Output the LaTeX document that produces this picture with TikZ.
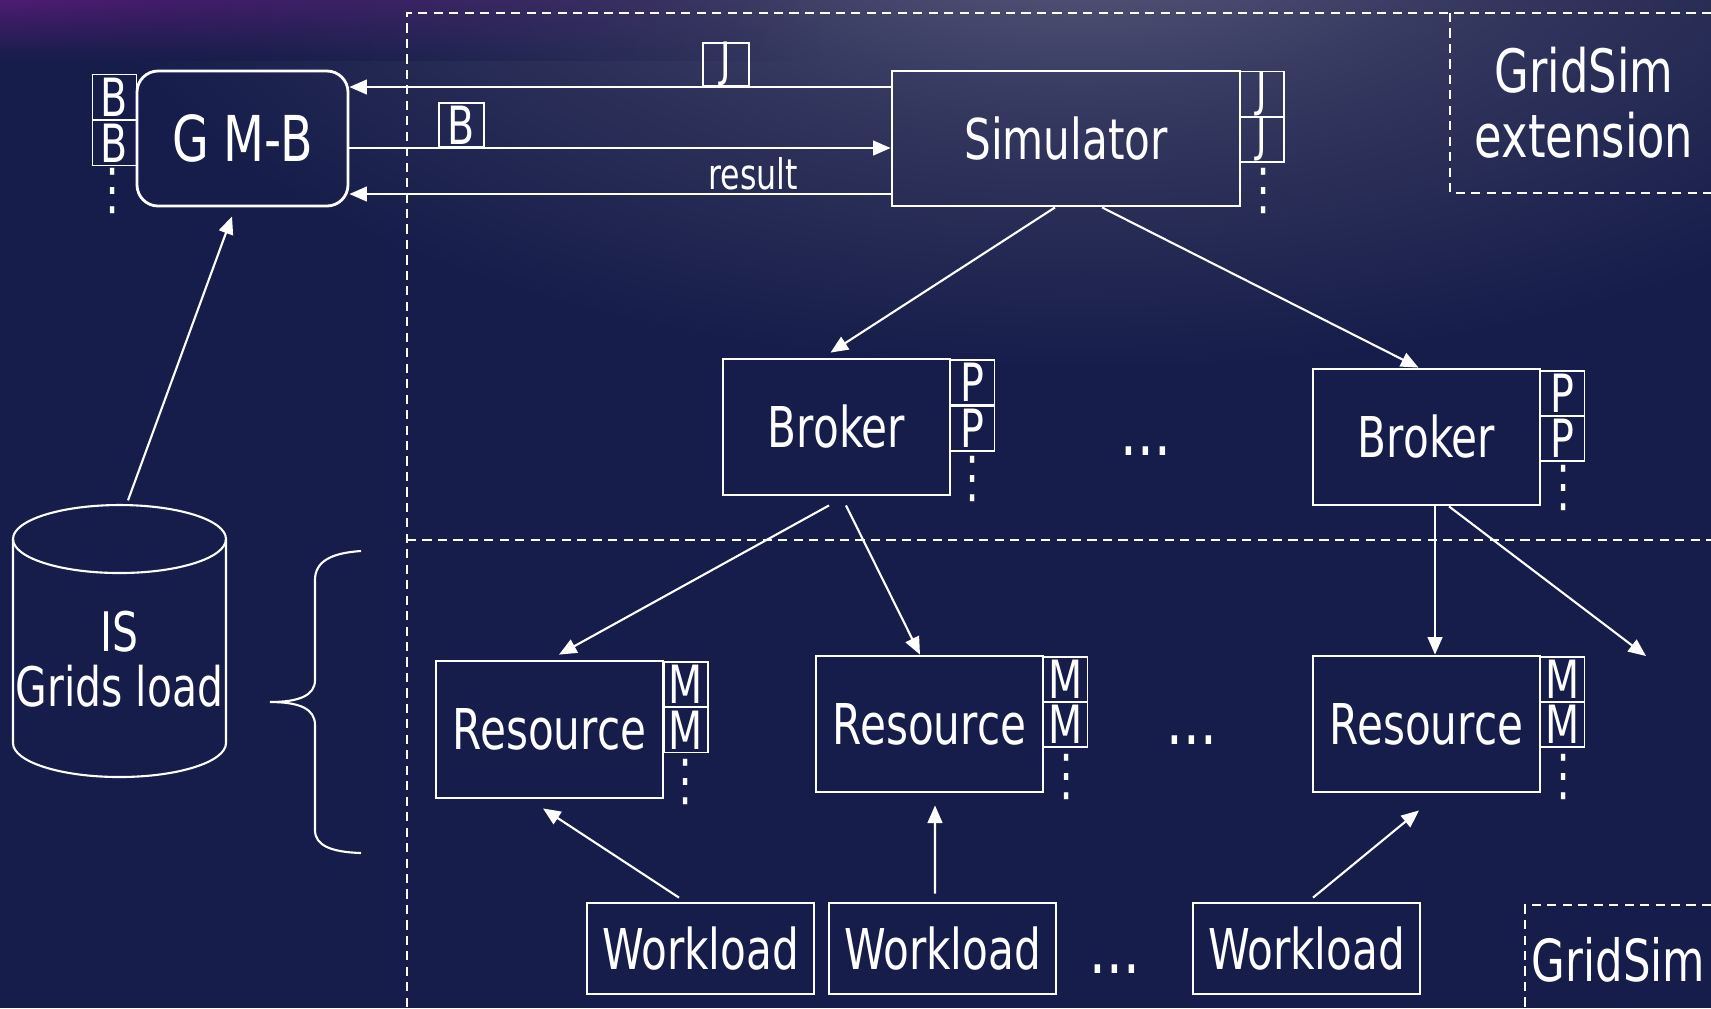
\documentclass[tikz,border=0pt]{standalone}
\usepackage{fontspec}
\setmainfont{DejaVu Sans}[FakeStretch=0.75]
\usetikzlibrary{arrows.meta,calc,fadings}

\definecolor{bgnavy}{HTML}{161D4A}
\definecolor{glowc}{HTML}{5A5D7D}
\definecolor{glowmid}{HTML}{34375E}
\definecolor{purplec}{HTML}{4E1C72}

\pgfdeclareradialshading{topglow}{\pgfpoint{0bp}{0bp}}{%
  color(0bp)=(glowc); color(11bp)=(glowmid); color(25bp)=(bgnavy); color(50bp)=(bgnavy)}

\newcommand\setfs[1]{\fontsize{#1}{#1}\selectfont}
% the letter J has a descender, so it is set a little smaller and lifted
\newcommand\jobtag{\raisebox{2pt}{\setfs{13.5}J}}

\tikzset{
  blk/.style={draw=white, line width=0.8pt, text=white, inner sep=0pt, font=\setfs{16}},
  tag/.style={draw=white, line width=0.5pt, text=white, inner sep=0pt,
              text height=10.9pt, text depth=0pt,
              minimum width=4.4mm, minimum height=4.5mm, font=\setfs{15}},
  arr/.style={draw=white, line width=0.6pt, -{Triangle[length=5pt,width=4.2pt]}},
  region/.style={draw=white, line width=0.6pt, dash pattern=on 2.6pt off 1.8pt},
  vdots/.style={text=white, inner sep=0pt, font=\setfs{16}},
  lbl/.style={text=white, inner sep=0pt, font=\setfs{16}},
  hdots/.style={text=white, inner sep=0pt, font=\setfs{20}},
  thin line/.style={draw=white, line width=0.6pt}
}

\begin{document}
\begin{tikzpicture}[x=0.1mm, y=-0.1mm]
\useasboundingbox (0,0) rectangle (1711,1008);

% background with the soft glow along the top edge
\begin{scope}
  \clip (0,0) rectangle (1711,1008);
  \fill[bgnavy] (0,0) rectangle (1711,1008);
  \shade[shading=topglow] (1080,-80) ellipse [x radius=100mm, y radius=45mm];
  \shade[top color=purplec, bottom color=bgnavy, path fading=east] (0,0) rectangle (820,60);
\end{scope}

% dashed regions
\draw[region] (1711,13) -- (407,13) -- (407,1008);
\draw[region] (407,540) -- (1711,540);
\draw[region] (1450,13) -- (1450,193) -- (1711,193);
\draw[region] (1711,905) -- (1525,905) -- (1525,1008);

\node[lbl, font=\setfs{17}, align=center, text height=12pt] (ext) at (1584,137)
  {GridSim\\[1.6pt]extension};
\node[lbl, font=\setfs{16.5}, anchor=west] (gs) at (1531,960) {GridSim};

% G M-B with its queue of B
\node[blk, rounded corners=6pt, minimum width=21.1mm, minimum height=13.5mm, font=\setfs{18}]
  (gmb) at (242.5,138.5) {G M-B};
\node[tag] (b1) at (114.5,97) {B};
\node[tag] (b2) at (114.5,143) {B};
\node[vdots] (bd) at (113,191) {⋮};

% Simulator with its queue of J
\node[blk, minimum width=34.8mm, minimum height=13.5mm] (sim) at (1066,138.5) {Simulator};
\node[tag] (j1) at (1262,94) {\jobtag};
\node[tag] (j2) at (1262,139.5) {\jobtag};
\node[vdots] (jd) at (1264,191) {⋮};

% messages between G M-B and Simulator
\coordinate (ya) at (0,87);
\coordinate (yb) at (0,148);
\coordinate (yc) at (0,194);
\draw[arr] (ya -| sim.west) -- (ya -| gmb.east);
\draw[arr] (yb -| gmb.east) -- (yb -| sim.west);
\draw[arr] (yc -| sim.west) -- (yc -| gmb.east);
\node[tag, minimum width=4.6mm, minimum height=4.3mm, anchor=south] (jm) at (726,87) {\jobtag};
\node[tag, minimum width=4.5mm, minimum height=4.4mm, anchor=south] (bm) at (461.5,148) {B};
\node[text=white, inner sep=0pt, font=\setfs{12}, anchor=south] (res) at (753,191) {result};

% brokers
\node[blk, minimum width=22.7mm, minimum height=13.6mm] (br1) at (836.5,427) {Broker};
\node[tag] (p11) at (972.5,382.5) {P};
\node[tag] (p12) at (972.5,428.5) {P};
\node[vdots] (pd1) at (973,479) {⋮};

\node[blk, minimum width=22.7mm, minimum height=13.6mm] (br2) at (1426.5,437) {Broker};
\node[tag] (p21) at (1562.5,393.5) {P};
\node[tag] (p22) at (1562.5,438.5) {P};
\node[vdots] (pd2) at (1564,488) {⋮};

\node[hdots] (bdots) at (1146,451) {...};

\draw[arr] ([xshift=-1.1mm]sim.south) -- ([xshift=-0.6mm,yshift=0.5mm]br1.north);
\draw[arr] ([xshift=3.6mm]sim.south) -- ([xshift=-0.8mm]br2.north);

% resources
\node[blk, minimum width=22.7mm, minimum height=13.7mm] (r1) at (549.5,729.5) {Resource};
\node[tag] (m11) at (686,684.5) {M};
\node[tag] (m12) at (686,730) {M};
\node[vdots] (md1) at (686,782) {⋮};

\node[blk, minimum width=22.7mm, minimum height=13.6mm] (r2) at (929.5,724) {Resource};
\node[tag] (m21) at (1065.5,679.5) {M};
\node[tag] (m22) at (1065.5,724.5) {M};
\node[vdots] (md2) at (1067,777) {⋮};

\node[blk, minimum width=22.7mm, minimum height=13.6mm] (r3) at (1426.5,724) {Resource};
\node[tag] (m31) at (1562.5,679.5) {M};
\node[tag] (m32) at (1562.5,724.5) {M};
\node[vdots] (md3) at (1564,777) {⋮};

\node[hdots] (rdots) at (1192,740) {...};

\coordinate (off) at (1646,656);
\draw[arr] ([xshift=-0.75mm,yshift=-0.9mm]br1.south) -- ([xshift=0.95mm,yshift=0.5mm]r1.north);
\draw[arr] ([xshift=0.95mm,yshift=-0.9mm]br1.south) -- ([xshift=-0.95mm]r2.north);
\draw[arr] ([xshift=0.85mm]br2.south) -- ([xshift=0.85mm]r3.north);
\draw[arr] ([xshift=2.25mm]br2.south) -- (off);

% workloads
\node[blk, minimum width=22.7mm, minimum height=9.1mm] (w1) at (700.5,948.5) {Workload};
\node[blk, minimum width=22.7mm, minimum height=9.1mm] (w2) at (942.5,948.5) {Workload};
\node[blk, minimum width=22.7mm, minimum height=9.1mm] (w3) at (1306.5,948.5) {Workload};
\node[hdots] (wdots) at (1115,969) {...};

\draw[arr] ([xshift=-2.15mm,yshift=0.4mm]w1.north) -- ([xshift=-0.65mm,yshift=-0.9mm]r1.south);
\draw[arr] ([xshift=-0.75mm,yshift=0.8mm]w2.north) -- ([xshift=0.55mm,yshift=-1.2mm]r2.south);
\draw[arr] ([xshift=0.65mm,yshift=0.4mm]w3.north) -- ([xshift=-0.75mm,yshift=-1.7mm]r3.south);

% information service store
\node[minimum width=21.3mm, minimum height=27.2mm, inner sep=0pt] (db) at (119.5,641) {};
\draw[thin line] (119.5,539) ellipse [x radius=10.65mm, y radius=3.4mm];
\draw[thin line] (13,539) -- (13,743)
  arc[start angle=180, end angle=360, x radius=10.65mm, y radius=3.4mm] -- (226,539);
\node[lbl, align=center, font=\setfs{15.5}] (istext) at (119.5,659) {IS\\[0pt]Grids load};
\draw[arr] ([xshift=0.85mm,yshift=0.4mm]db.north) -- ([xshift=-1.05mm,yshift=-0.9mm]gmb.south);

% brace gathering the lower half
\draw[thin line] (361,551) .. controls (330,553) and (315,562) .. (315,580) -- (315,680)
  .. controls (315,695) and (300,702) .. (270,702)
  .. controls (300,702) and (315,709) .. (315,725) -- (315,830)
  .. controls (315,845) and (330,852) .. (361,853);
\end{tikzpicture}
\end{document}
